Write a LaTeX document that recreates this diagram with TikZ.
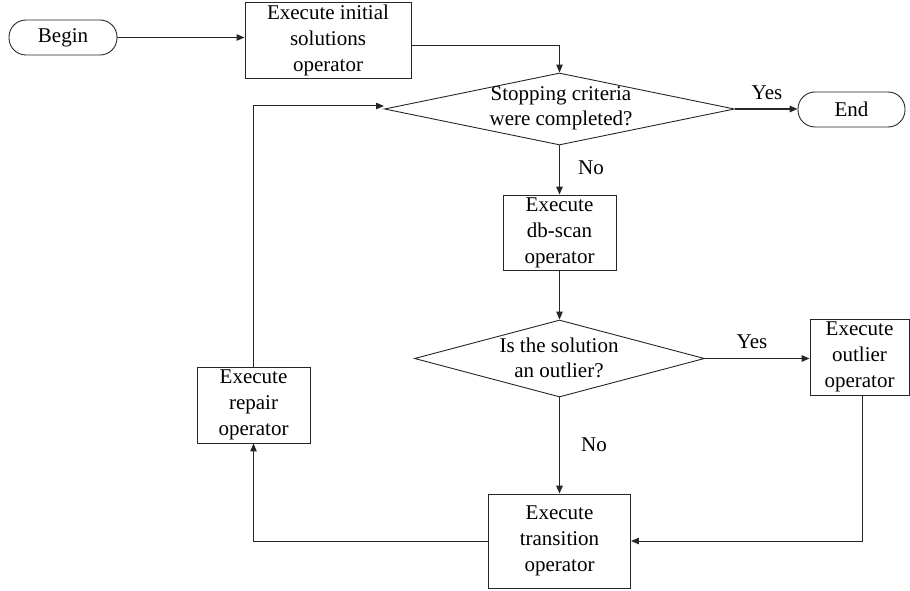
\documentclass[tikz,border=0pt]{standalone}
\usepackage{fontspec}
\setmainfont{Liberation Serif}
\usetikzlibrary{arrows.meta,shapes.geometric}
\begin{document}
\begin{tikzpicture}[x=1pt,y=-1pt,
  box/.style={draw=black!85,line width=0.9pt,align=center,inner sep=0pt,
    font=\fontsize{21}{26}\selectfont},
  term/.style={box,rounded corners=17pt},
  dia/.style={draw=black!85,line width=0.9pt,diamond,inner sep=0pt},
  txt/.style={align=center,inner sep=0pt,font=\fontsize{21}{25}\selectfont},
  lbl/.style={inner sep=0pt,font=\fontsize{21}{24}\selectfont},
  conn/.style={draw=black!85,line width=1pt,-{Triangle[length=8pt,width=6.5pt]}},
  boldconn/.style={conn,line width=1.6pt}]
\useasboundingbox (0,0) rectangle (910,591);

\node[term,minimum width=108pt,minimum height=35pt] (begin) at (63,37.5) {Begin};
\node[box,minimum width=166pt,minimum height=76pt] (init) at (328,40) {Execute initial\\solutions\\operator};
\node[dia,minimum width=350pt,minimum height=72pt] (d1) at (559.5,109) {};
\node[txt] (d1t) at (561,108.5) {Stopping criteria\\were completed?};
\node[term,minimum width=107pt,minimum height=35pt] (end) at (851.5,109.5) {End};
\node[box,minimum width=113pt,minimum height=75pt] (db) at (559.5,232.5) {Execute\\db-scan\\operator};
\node[dia,minimum width=290pt,minimum height=77pt] (d2) at (559.5,358.5) {};
\node[txt] (d2t) at (559,357.5) {Is the solution\\an outlier?};
\node[box,minimum width=99pt,minimum height=76pt] (out) at (859.5,357) {Execute\\outlier\\operator};
\node[box,minimum width=142pt,minimum height=94pt] (trans) at (559.5,541) {Execute\\transition\\operator};
\node[box,minimum width=113pt,minimum height=76pt] (rep) at (253.5,405) {Execute\\repair\\operator};

\draw[conn] (begin.east) -- (begin.east -| init.west);
\draw[conn] ([yshift=-6pt]init.east) -| (d1.north);
\draw[boldconn] (d1.east) -- (d1.east -| end.west);
\node[lbl] (y1) at (767,93) {Yes};
\draw[boldconn] (d1.south) -- (db.north);
\node[lbl] (n1) at (591,168) {No};
\draw[conn] (db.south) -- (d2.north);
\draw[boldconn] (d2.east) -- (d2.east -| out.west);
\node[lbl] (y2) at (752,342) {Yes};
\draw[conn] ([xshift=3pt]out.south) |- (trans.east);
\draw[boldconn] (d2.south) -- (trans.north);
\node[lbl] (n2) at (594,445) {No};
\draw[conn] (trans.west) -| (rep.south);
\draw[conn] (rep.north) |- ([yshift=3pt]d1.west);
\end{tikzpicture}
\end{document}
